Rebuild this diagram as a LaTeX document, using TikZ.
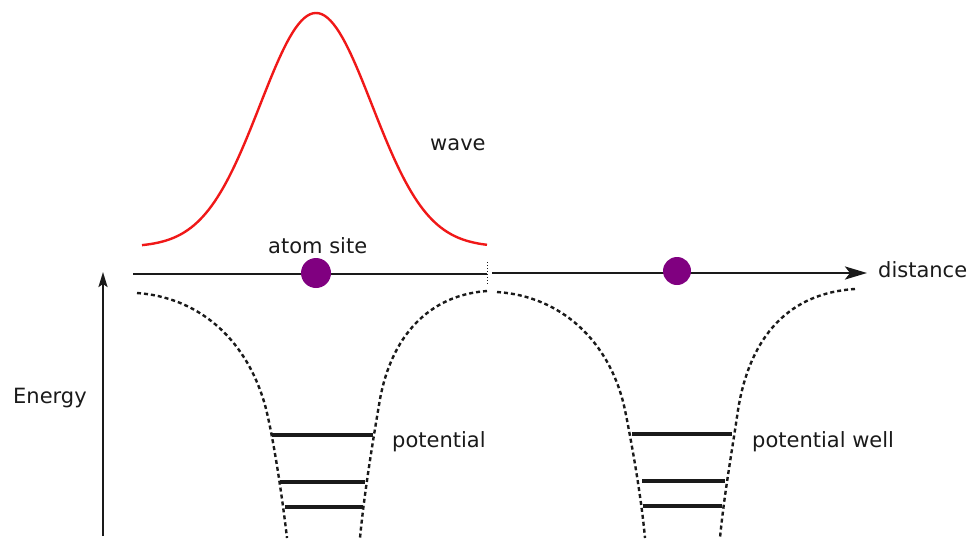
\documentclass[tikz,border=0pt]{standalone}
\usepackage{fontspec}
\setmainfont{DejaVu Sans}
\usepackage{xcolor}
\usepackage{tikz}
\usetikzlibrary{arrows.meta,positioning,calc}
\definecolor{ink}{HTML}{1A1A1A}
\definecolor{wavered}{HTML}{F01818}
\definecolor{atompurple}{HTML}{800080}
\tikzset{
  lbl/.style={anchor=base west,inner sep=0pt,text=ink,font=\fontsize{21}{25}\selectfont},
  atom/.style={circle,fill=atompurple,minimum size=30pt,inner sep=0pt},
  axisline/.style={line width=2.6pt,ink},
  potline/.style={line width=2.4pt,ink,dash pattern=on 4pt off 3pt},
  level/.style={line width=4.5pt,ink}
}
\begin{document}
\begin{tikzpicture}[x=1pt,y=-1pt]
\useasboundingbox (0,0) rectangle (973,538);

% axis with atoms
\coordinate (axL) at (133,274);
\coordinate (axM) at (487,274);
\coordinate (axN) at (492,273);
\coordinate (axR) at (867,273);
\draw[axisline] (axL) -- (axM);
\draw[axisline,-{Stealth[length=22pt,width=13pt,inset=5pt]}] (axN) -- (axR);
\draw[ink,line width=1pt,dotted] (487,262) -- (487,285);
\node[atom] (siteA) at (316,273) {};
\node[atom,minimum size=28pt] (siteB) at (677,271) {};
\node[lbl] (distLbl) at (878,277) {distance};
\node[lbl] (siteLbl) at (268,253) {atom site};

% energy
\coordinate (enBot) at (103,536);
\coordinate (enTop) at (103,272);
\draw[axisline,line width=2.2pt,-{Stealth[length=15pt,width=9pt,inset=3pt]}] (enBot) -- (enTop);
\node[lbl] (enLbl) at (13,403) {Energy};

% wave
\draw[wavered,line width=2.4pt] plot[domain=142:487,samples=120]
  (\x,{247-234*exp(-0.5*((\x-316)/56)^2)});
\node[lbl] (waveLbl) at (430,150) {wave};

% wells
\draw[potline] (137,293) .. controls (195,297) and (245,335) .. (265,405)
  .. controls (273,435) and (282,495) .. (287,538);
\draw[potline] (487,291) .. controls (430,295) and (390,335) .. (379,405)
  .. controls (373,440) and (364,495) .. (360,538);
\draw[potline] (497,292) .. controls (560,296) and (610,340) .. (625,410)
  .. controls (632,445) and (641,495) .. (645,538);
\draw[potline] (855,289) .. controls (790,293) and (750,335) .. (738,410)
  .. controls (733,445) and (724,495) .. (720,538);

% levels
\foreach \ya/\xa/\xb in {435/272/373,482/280/365,507/285/363}
  \draw[level] (\xa,\ya) -- (\xb,\ya);
\foreach \ya/\xa/\xb in {434/632/732,481/642/725,506/643/722}
  \draw[level] (\xa,\ya) -- (\xb,\ya);
\node[lbl] (potLbl) at (392,447) {potential};
\node[lbl] (wellLbl) at (752,447) {potential well};
\end{tikzpicture}
\end{document}
